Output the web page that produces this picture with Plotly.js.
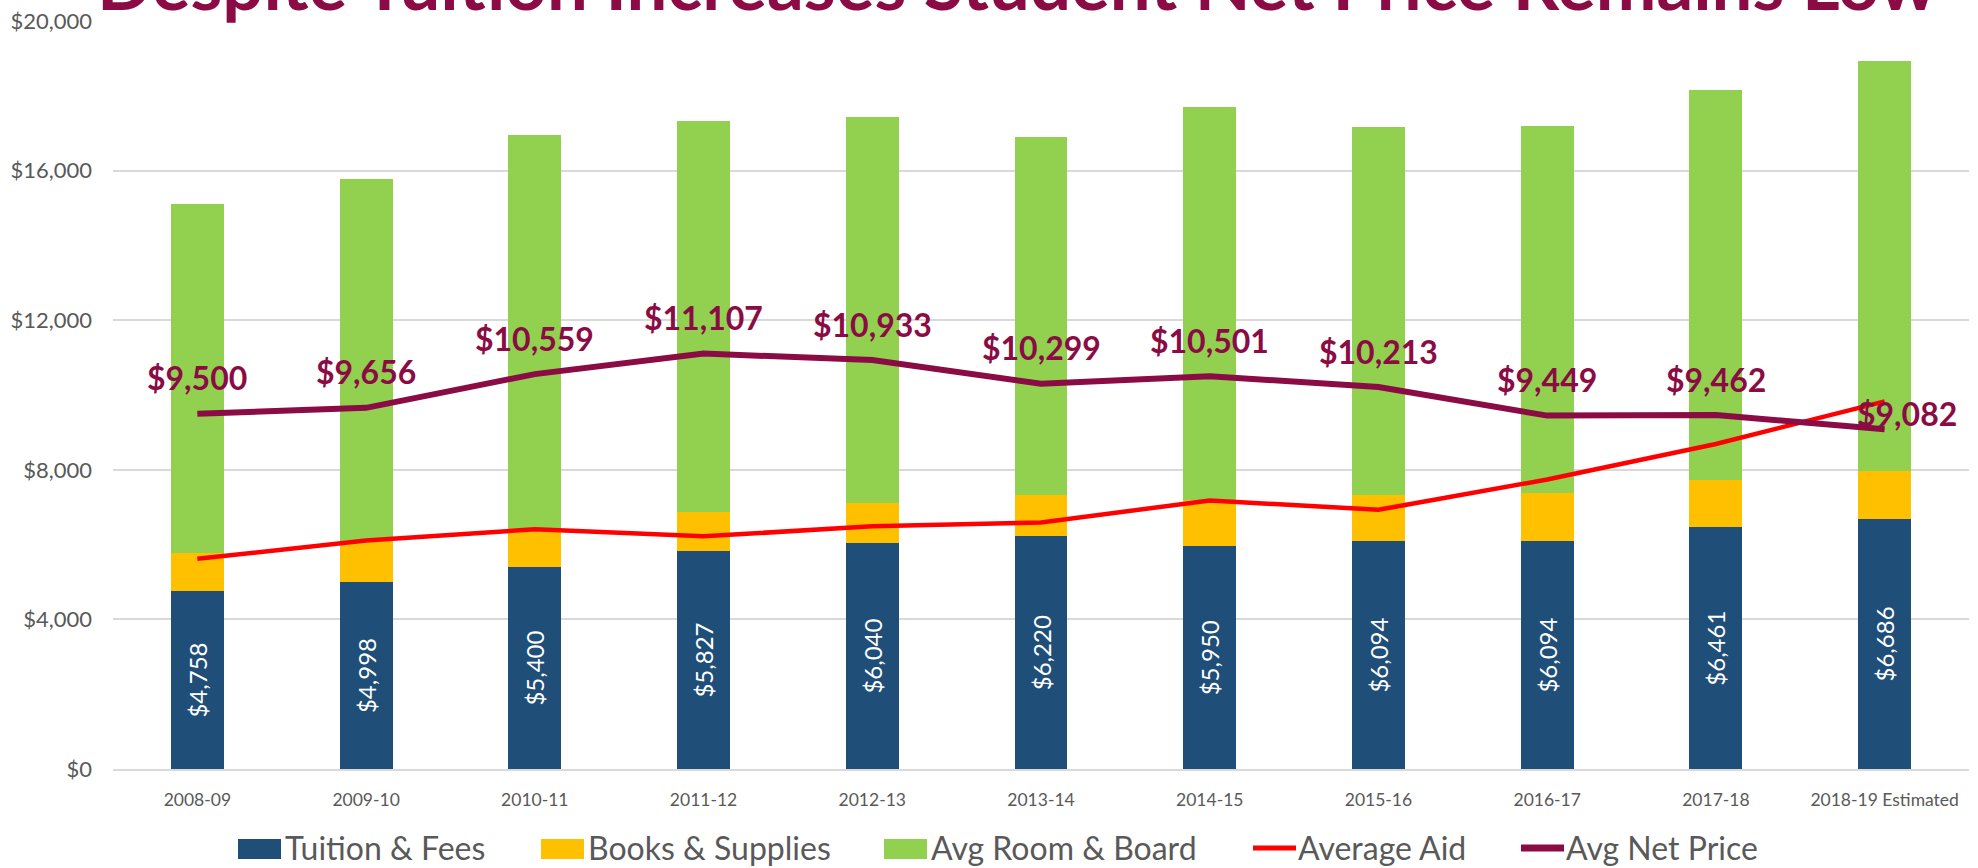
<!DOCTYPE html>
<html><head><meta charset="utf-8">
<script src="https://cdn.plot.ly/plotly-3.0.1.min.js"></script>
<style>html,body{margin:0;padding:0;background:#fff;overflow:hidden;} #chart{width:1978px;height:868px;}</style>
</head><body><div id="chart"></div>
<script>
// ---- data ----
const categories = ['2008-09','2009-10','2010-11','2011-12','2012-13','2013-14','2014-15','2015-16','2016-17','2017-18','2018-19 Estimated'];
const tuitionFees   = [4758, 4998, 5400, 5827, 6040, 6220, 5950, 6094, 6094, 6461, 6686];
const booksSupplies = [1010, 1105, 1040, 1050, 1075, 1100, 1235, 1225, 1290, 1260, 1275];
const roomBoard     = [9340, 9680, 10525, 10460, 10320, 9580, 10520, 9850, 9815, 10425, 10960];
const averageAid    = [5620, 6110, 6410, 6220, 6490, 6590, 7180, 6930, 7740, 8690, 9830];
const netPrice      = [9500, 9656, 10559, 11107, 10933, 10299, 10501, 10213, 9449, 9462, 9082];
const yTickValues   = [0, 4000, 8000, 12000, 16000, 20000];
const seriesNames   = ['Tuition & Fees', 'Books & Supplies', 'Avg Room & Board', 'Average Aid', 'Avg Net Price'];
const chartTitle    = 'Despite Tuition Increases Student Net Price Remains Low';

// ---- style ----
const COLORS = ['#1F4E79', '#FFC000', '#92D050', '#FF0000', '#8B0B44'];
const FONT = 'Lato, "Open Sans", sans-serif';
const GREY = '#595959';
const W = 1978, H = 868;
const M = {l: 113, r: 9, t: 21, b: 99};
const PW = W - M.l - M.r, PH = H - M.t - M.b;
const px2x = p => (p - M.l) / PW;
const px2y = p => (H - M.b - p) / PH;
const money = v => '$' + v.toLocaleString('en-US');

const traces = [
  {type: 'bar', name: seriesNames[0], x: categories, y: tuitionFees,
   marker: {color: COLORS[0]}, text: tuitionFees.map(money), textposition: 'inside',
   insidetextanchor: 'middle', textangle: -90, constraintext: 'none',
   textfont: {family: FONT, size: 24, color: '#FFFFFF'}, hoverinfo: 'skip'},
  {type: 'bar', name: seriesNames[1], x: categories, y: booksSupplies,
   marker: {color: COLORS[1]}, hoverinfo: 'skip'},
  {type: 'bar', name: seriesNames[2], x: categories, y: roomBoard,
   marker: {color: COLORS[2]}, hoverinfo: 'skip'},
  {type: 'scatter', mode: 'lines', name: seriesNames[3], x: categories, y: averageAid,
   line: {color: COLORS[3], width: 4.5}, hoverinfo: 'skip'},
  {type: 'scatter', mode: 'lines', name: seriesNames[4], x: categories, y: netPrice,
   line: {color: COLORS[4], width: 6}, hoverinfo: 'skip'}
];

const annotations = [];
// net price data labels
netPrice.forEach((v, i) => {
  const last = i === netPrice.length - 1;
  annotations.push({x: categories[i], y: v, xref: 'x', yref: 'y', text: money(v),
    showarrow: false, xanchor: 'center', yanchor: 'middle',
    xshift: last ? 22 : 0, yshift: last ? 16 : 36,
    font: {family: FONT, size: 32, color: COLORS[4], weight: 700}});
});
// title (cut off at the top, as in the reference)
annotations.push({x: px2x(1017), y: px2y(-19), xref: 'paper', yref: 'paper', text: '<b>' + chartTitle + '</b>',
  showarrow: false, xanchor: 'center', yanchor: 'middle',
  font: {family: FONT, size: 72.5, color: COLORS[4]}});

// custom legend with large swatches
const legendStart = [238, 541, 884, 1251, 1519];
const swW = 43, legY = 849;
const shapes = [];
seriesNames.forEach((n, i) => {
  const x0 = legendStart[i];
  if (i < 3) {
    shapes.push({type: 'rect', xref: 'paper', yref: 'paper', x0: px2x(x0), x1: px2x(x0 + swW),
      y0: px2y(legY + 10), y1: px2y(legY - 10), fillcolor: COLORS[i], line: {width: 0}});
  } else {
    shapes.push({type: 'line', xref: 'paper', yref: 'paper', x0: px2x(x0 + 2), x1: px2x(x0 + swW + 2),
      y0: px2y(legY - 1), y1: px2y(legY - 1), line: {color: COLORS[i], width: i === 3 ? 5 : 7}});
  }
  annotations.push({x: px2x(x0 + swW + 2), y: px2y(legY - 2), xref: 'paper', yref: 'paper', text: n,
    showarrow: false, xanchor: 'left', yanchor: 'middle',
    font: {family: FONT, size: 32, color: GREY}});
});

const layout = {
  width: W, height: H,
  margin: {l: M.l, r: M.r, t: M.t, b: M.b, pad: 0},
  paper_bgcolor: '#FFFFFF', plot_bgcolor: '#FFFFFF',
  barmode: 'stack', bargap: 0.686,
  showlegend: false,
  font: {family: FONT, color: GREY},
  xaxis: {type: 'category', showgrid: false, showline: true, linecolor: '#D9D9D9', linewidth: 2,
    ticks: '', tickfont: {family: FONT, size: 17.5, color: GREY}, ticklabelstandoff: 14,
    fixedrange: true},
  yaxis: {range: [0, 20000], tickvals: yTickValues, ticktext: yTickValues.map(money),
    showgrid: true, gridcolor: '#D9D9D9', gridwidth: 2, zeroline: false, showline: false,
    ticks: '', tickfont: {family: FONT, size: 22, color: GREY}, ticklabelstandoff: 20,
    fixedrange: true},
  annotations: annotations,
  shapes: shapes
};

Plotly.newPlot('chart', traces, layout, {displayModeBar: false, staticPlot: true});
</script>
</body></html>
